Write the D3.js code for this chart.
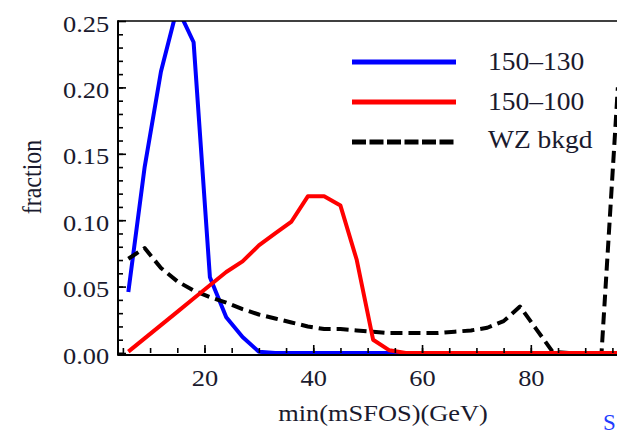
<!DOCTYPE html>
<html>
<head>
<meta charset="utf-8">
<script src="https://cdn.jsdelivr.net/npm/d3@7"></script>
<style>
  body { margin: 0; background: #fff; }
  svg { display: block; }
  text { font-family: "Liberation Serif", "Times New Roman", serif; fill: #1a1a2e; }
</style>
</head>
<body>
<div id="chart"></div>
<script>
'use strict';

// bin centres of min(mSFOS) in GeV
var massBins = [6, 9, 12, 15, 18, 21, 24, 27, 30, 33, 36, 39, 42, 45, 48, 51,
    54, 57, 60, 63, 66, 69, 72, 75, 78, 81, 84, 87, 90, 93, 96];

var frac150_130 = [0.046, 0.14, 0.212, 0.26, 0.234, 0.057, 0.027, 0.012, 0.001, 0, 0,
    0, 0, 0, 0, 0, 0, 0, 0, 0, 0, 0, 0, 0, 0, 0, 0, 0, 0, 0, 0];

var frac150_100 = [0.001, 0.011, 0.021, 0.031, 0.041, 0.051, 0.061, 0.069, 0.081, 0.090,
    0.099, 0.118, 0.118, 0.111, 0.070, 0.010, 0.002, 0, 0, 0, 0, 0, 0, 0, 0, 0, 0, 0, 0, 0, 0];

var fracWZ = [0.071, 0.079, 0.064, 0.054, 0.047, 0.042, 0.038, 0.033, 0.029, 0.026,
    0.023, 0.020, 0.018, 0.018, 0.017, 0.016, 0.015, 0.015, 0.015, 0.015, 0.016,
    0.017, 0.019, 0.024, 0.035, 0.018, 0.001, 0, 0, 0, 0.2];

var seriesNames = ['150\u2013130', '150\u2013100', 'WZ bkgd'];
var xTickValues = [20, 40, 60, 80];
var yTickValues = [0, 0.05, 0.10, 0.15, 0.20, 0.25];

var width = 617, height = 436;
var frame = { left: 118, top: 21, bottom: 353 };
var stretch = 'scale(1.1,1)';

var svg = d3.select('#chart').append('svg')
    .attr('width', width)
    .attr('height', height);

var x = d3.scaleLinear().domain([4.1, 100]).range([frame.left, 639.6]);
var y = d3.scaleLinear().domain([0, 0.25]).range([frame.bottom, frame.top]);

// plot lines, clipped to the frame
svg.append('clipPath').attr('id', 'plot-clip')
    .append('rect')
    .attr('x', frame.left).attr('y', frame.top)
    .attr('width', width - frame.left).attr('height', frame.bottom - frame.top + 6);

var line = d3.line()
    .x(function (d) { return x(d[0]); })
    .y(function (d) { return y(d[1]); });

var series = [
    { name: seriesNames[0], values: frac150_130, color: '#0000ff', dash: null },
    { name: seriesNames[2], values: fracWZ, color: '#000000', dash: '12,6' },
    { name: seriesNames[1], values: frac150_100, color: '#ff0000', dash: null }
];

var data = svg.append('g').attr('class', 'data').attr('clip-path', 'url(#plot-clip)');

series.forEach(function (s) {
    data.append('path')
        .datum(massBins.map(function (m, i) { return [m, s.values[i]]; }))
        .attr('fill', 'none')
        .attr('stroke', s.color)
        .attr('stroke-width', 4)
        .attr('stroke-linejoin', 'round')
        .attr('stroke-dasharray', s.dash)
        .attr('d', line);
});

// frame + ticks (drawn on top of the lines)
var axes = svg.append('g').attr('class', 'axes');

axes.append('g')
    .attr('transform', 'translate(0,' + frame.bottom + ')')
    .call(d3.axisBottom(x).tickValues(d3.range(5, 100, 5)).tickSize(-5).tickFormat(''));

var xMajor = axes.append('g')
    .attr('transform', 'translate(0,' + frame.bottom + ')')
    .call(d3.axisBottom(x).tickValues(xTickValues).tickSizeInner(-8).tickSizeOuter(0).tickPadding(16));

axes.append('g')
    .attr('transform', 'translate(' + frame.left + ',0)')
    .call(d3.axisLeft(y).tickValues(d3.range(0, 0.25, 0.01)).tickSize(-5).tickFormat(''));

var yMajor = axes.append('g')
    .attr('transform', 'translate(' + frame.left + ',0)')
    .call(d3.axisLeft(y).tickValues(yTickValues).tickSizeInner(-8).tickSizeOuter(0)
        .tickPadding(8).tickFormat(d3.format('.2f')));

axes.selectAll('.domain').remove();
axes.selectAll('.tick line').attr('stroke', '#000').attr('stroke-width', 1.6);
axes.selectAll('.tick text')
    .attr('font-family', '"Liberation Serif", serif')
    .attr('font-size', 24)
    .attr('fill', '#1a1a2e')
    .attr('transform', stretch);
yMajor.selectAll('.tick text').attr('dy', '0.42em');

// frame lines
axes.append('path')
    .attr('d', 'M' + frame.left + ',' + frame.top + 'H' + width)
    .attr('stroke', '#000').attr('stroke-width', 1.6);
axes.append('path')
    .attr('d', 'M' + frame.left + ',' + (frame.top - 0.8) + 'V' + (frame.bottom + 2.8))
    .attr('stroke', '#000').attr('stroke-width', 2);
axes.append('path')
    .attr('d', 'M' + frame.left + ',' + (frame.bottom + 2) + 'H' + width)
    .attr('stroke', '#000').attr('stroke-width', 2);

// axis labels
svg.append('text')
    .attr('transform', 'translate(383,421) ' + stretch)
    .attr('text-anchor', 'middle')
    .attr('font-size', 24)
    .text('min(mSFOS)(GeV)');

svg.append('text')
    .attr('transform', 'translate(41,177) ' + stretch + ' rotate(-90)')
    .attr('text-anchor', 'middle')
    .attr('font-size', 24)
    .text('fraction');

// legend
var legend = svg.append('g').attr('class', 'legend');
var legendRows = [
    { name: seriesNames[0], color: '#0000ff', dash: null, ly: 62, ty: 70 },
    { name: seriesNames[1], color: '#ff0000', dash: null, ly: 102, ty: 110 },
    { name: seriesNames[2], color: '#000000', dash: '14,3.5', ly: 142, ty: 148 }
];
legendRows.forEach(function (r) {
    legend.append('line')
        .attr('x1', 352).attr('x2', 456)
        .attr('y1', r.ly).attr('y2', r.ly)
        .attr('stroke', r.color)
        .attr('stroke-width', 5)
        .attr('stroke-dasharray', r.dash);
    legend.append('text')
        .attr('transform', 'translate(488,' + r.ty + ') ' + stretch)
        .attr('font-size', 25)
        .text(r.name);
});

// stray blue glyph at the bottom-right corner
svg.append('text')
    .attr('x', 603).attr('y', 430)
    .attr('font-size', 23)
    .style('fill', '#1f3cff')
    .text('S');
</script>
</body>
</html>
